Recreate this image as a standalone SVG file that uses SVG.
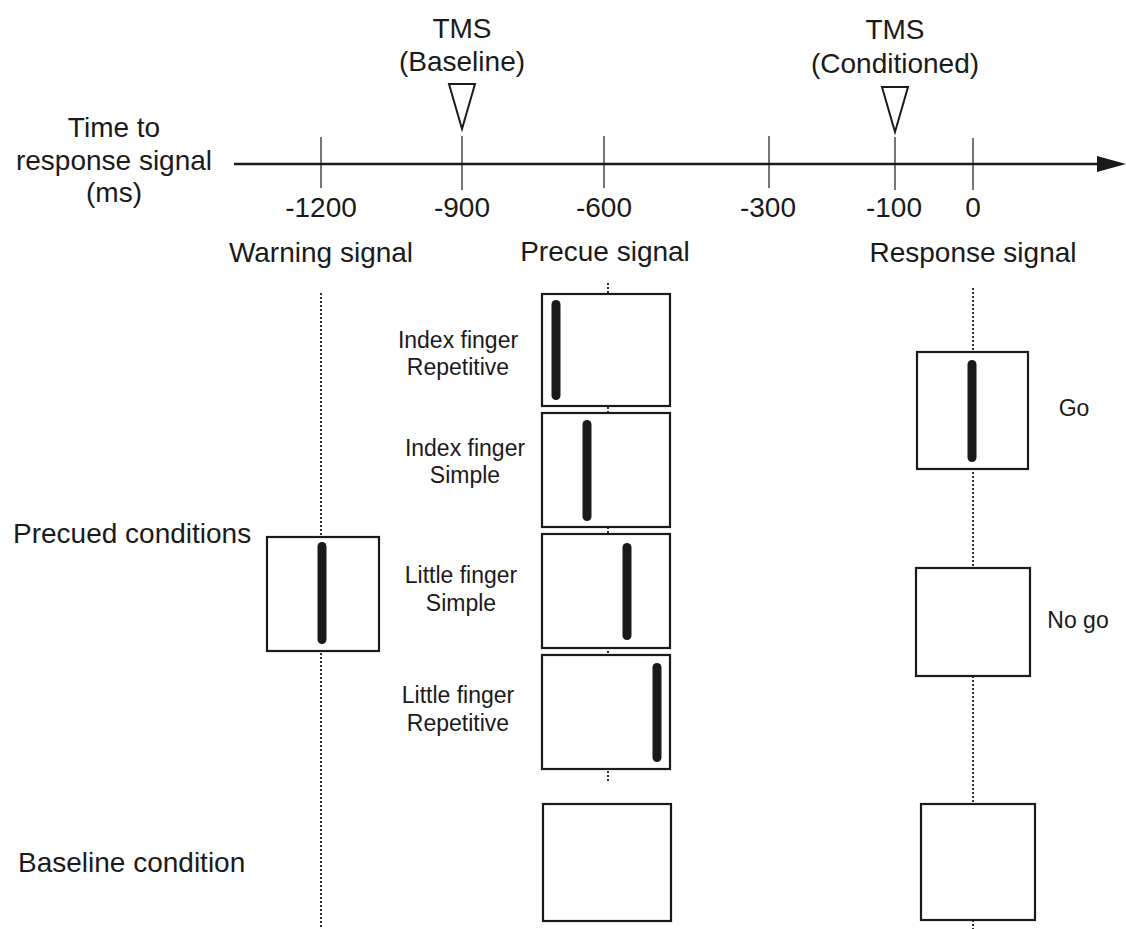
<svg xmlns="http://www.w3.org/2000/svg" width="1126" height="929" viewBox="0 0 1126 929">
<style>
text{font-family:"Liberation Sans",Arial,sans-serif;fill:#1a1a1a}
.big{font-size:28px}
.sm{font-size:23px}
.box{fill:#fff;stroke:#1a1a1a;stroke-width:2.2}
.bar{stroke:#1a1a1a;stroke-width:9;stroke-linecap:round}
.tick{stroke:#1a1a1a;stroke-width:1.2}
.dot{stroke:#1a1a1a;stroke-width:1.8;stroke-dasharray:2 2;fill:none}
.tri{fill:#fff;stroke:#1a1a1a;stroke-width:2}
</style>
<rect width="1126" height="929" fill="#fff"/>
<g id="connectors">
<line class="dot" x1="321" y1="293" x2="321" y2="929"/>
<line class="dot" x1="608" y1="283" x2="608" y2="781"/>
<line class="dot" x1="973" y1="288" x2="973" y2="929"/>
</g>
<g id="axis">
<line x1="234" y1="164" x2="1099" y2="164" stroke="#1a1a1a" stroke-width="2.5"/>
<polygon points="1097,156 1126,164 1097,172" fill="#1a1a1a"/>
<line class="tick" x1="321" y1="137" x2="321" y2="188"/>
<line class="tick" x1="462" y1="136" x2="462" y2="190"/>
<line class="tick" x1="604" y1="136" x2="604" y2="188"/>
<line class="tick" x1="769" y1="136" x2="769" y2="188"/>
<line class="tick" x1="895" y1="137" x2="895" y2="190"/>
<line class="tick" x1="973" y1="138" x2="973" y2="190"/>
<g class="big" text-anchor="middle">
<text x="114" y="137">Time to</text>
<text x="114" y="170">response signal</text>
<text x="114" y="202">(ms)</text>
<text x="321" y="217">-1200</text>
<text x="462" y="217">-900</text>
<text x="604" y="217">-600</text>
<text x="768" y="217">-300</text>
<text x="894" y="217">-100</text>
<text x="973" y="217">0</text>
</g>
</g>
<g id="tms-baseline">
<text class="big" x="462" y="38" text-anchor="middle">TMS</text>
<text class="big" x="462" y="71" text-anchor="middle">(Baseline)</text>
<polygon class="tri" points="449,84 475,84 462,129"/>
</g>
<g id="tms-conditioned">
<text class="big" x="895" y="39" text-anchor="middle">TMS</text>
<text class="big" x="895" y="73" text-anchor="middle">(Conditioned)</text>
<polygon class="tri" points="882,87 908,87 895,132"/>
</g>
<g id="headers" class="big" text-anchor="middle">
<text x="321" y="262">Warning signal</text>
<text x="605" y="261">Precue signal</text>
<text x="973" y="262">Response signal</text>
</g>
<g id="row-labels" class="big">
<text x="13" y="543">Precued conditions</text>
<text x="18" y="872">Baseline condition</text>
</g>
<g id="warning-box">
<rect class="box" x="267" y="537" width="112" height="114"/>
<line class="bar" x1="322" y1="546.5" x2="322" y2="639.5"/>
</g>
<g id="precue-index-repetitive">
<rect class="box" x="542" y="294" width="128" height="112"/>
<line class="bar" x1="556" y1="304.5" x2="556" y2="395.5"/>
<text class="sm" x="458" y="348" text-anchor="middle">Index finger</text>
<text class="sm" x="458" y="375" text-anchor="middle">Repetitive</text>
</g>
<g id="precue-index-simple">
<rect class="box" x="542" y="413" width="128" height="114"/>
<line class="bar" x1="587" y1="424.5" x2="587" y2="516.5"/>
<text class="sm" x="465" y="456" text-anchor="middle">Index finger</text>
<text class="sm" x="465" y="483" text-anchor="middle">Simple</text>
</g>
<g id="precue-little-simple">
<rect class="box" x="542" y="534" width="128" height="114"/>
<line class="bar" x1="627" y1="547.5" x2="627" y2="635.5"/>
<text class="sm" x="461" y="583" text-anchor="middle">Little finger</text>
<text class="sm" x="461" y="611" text-anchor="middle">Simple</text>
</g>
<g id="precue-little-repetitive">
<rect class="box" x="542" y="655" width="128" height="114"/>
<line class="bar" x1="657" y1="667.5" x2="657" y2="757.5"/>
<text class="sm" x="458" y="703" text-anchor="middle">Little finger</text>
<text class="sm" x="458" y="731" text-anchor="middle">Repetitive</text>
</g>
<g id="precue-baseline">
<rect class="box" x="543" y="804" width="128" height="117"/>
</g>
<g id="response-go">
<rect class="box" x="917" y="352" width="111" height="117"/>
<line class="bar" x1="972" y1="364.5" x2="972" y2="457.5"/>
<text class="sm" x="1074" y="416" text-anchor="middle">Go</text>
</g>
<g id="response-nogo">
<rect class="box" x="916" y="568" width="114" height="108"/>
<text class="sm" x="1078" y="628" text-anchor="middle">No go</text>
</g>
<g id="response-baseline">
<rect class="box" x="921" y="804" width="114" height="116"/>
</g>
</svg>
